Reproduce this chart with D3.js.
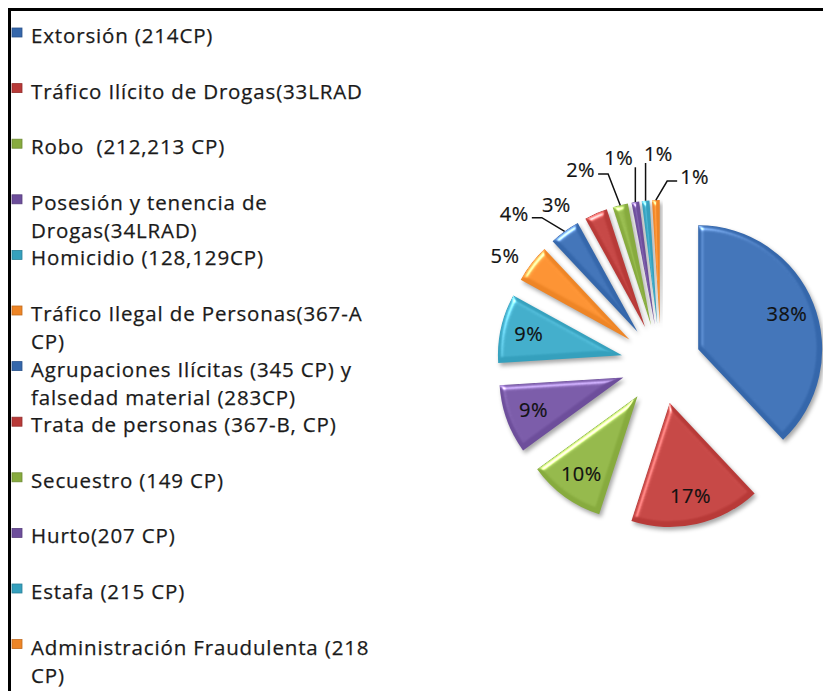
<!DOCTYPE html>
<html lang="es">
<head>
<meta charset="UTF-8">
<title>Delitos</title>
<style>
    body { margin: 0; background: #fff; }
    svg { display: block; }
    .legend-text { font: 20.5px "Open Sans", sans-serif; letter-spacing: 0.85px; fill: #1a1a1a; stroke: #1a1a1a; stroke-width: 0.25px; white-space: pre; }
    .pct { font: 20px "Open Sans", sans-serif; letter-spacing: 0.5px; fill: #111; stroke: #111; stroke-width: 0.2px; }
</style>
</head>
<body>
<div id="chart"></div>
<script src="https://d3js.org/d3.v7.min.js"></script>
<script>
    // categories as they appear in the legend (\n = line break in the legend)
    const categories = [
        "Extorsión (214CP)",
        "Tráfico Ilícito de Drogas(33LRAD",
        "Robo  (212,213 CP)",
        "Posesión y tenencia de\nDrogas(34LRAD)",
        "Homicidio (128,129CP)",
        "Tráfico Ilegal de Personas(367-A\nCP)",
        "Agrupaciones Ilícitas (345 CP) y\nfalsedad material (283CP)",
        "Trata de personas (367-B, CP)",
        "Secuestro (149 CP)",
        "Hurto(207 CP)",
        "Estafa (215 CP)",
        "Administración Fraudulenta (218\nCP)"
    ];
    const values = [38, 17, 10, 9, 9, 5, 4, 3, 2, 1, 1, 1];
    const palette = ["#3567ab", "#b83a38", "#87ab3e", "#6d4e9b", "#35a0bd", "#ee8526"];

    const W = 823, H = 691;
    const cx = 661, cy = 364, r = 124, explode = 40;

    const svg = d3.select("#chart").append("svg")
        .attr("width", W)
        .attr("height", H);

    const defs = svg.append("defs");
    const f = defs.append("filter").attr("id", "bevel")
        .attr("color-interpolation-filters", "sRGB")
        .attr("x", "-20%").attr("y", "-20%").attr("width", "150%").attr("height", "150%");
    f.append("feGaussianBlur").attr("in", "SourceAlpha").attr("stdDeviation", 2.5).attr("result", "blur");
    f.append("feSpecularLighting").attr("in", "blur").attr("surfaceScale", 3)
        .attr("specularConstant", 0.7).attr("specularExponent", 25)
        .attr("lighting-color", "#fff").attr("result", "spec")
        .append("feDistantLight").attr("azimuth", 235).attr("elevation", 40);
    f.append("feComposite").attr("in", "spec").attr("in2", "SourceAlpha")
        .attr("operator", "in").attr("result", "specIn");
    f.append("feComposite").attr("in", "SourceGraphic").attr("in2", "specIn")
        .attr("operator", "arithmetic").attr("k1", 0).attr("k2", 1).attr("k3", 1).attr("k4", 0)
        .attr("result", "lit");
    f.append("feGaussianBlur").attr("in", "SourceAlpha").attr("stdDeviation", 2).attr("result", "sblur");
    f.append("feOffset").attr("in", "sblur").attr("dx", 2).attr("dy", 3).attr("result", "soff");
    f.append("feFlood").attr("flood-color", "#000").attr("flood-opacity", 0.35).attr("result", "sc");
    f.append("feComposite").attr("in", "sc").attr("in2", "soff").attr("operator", "in").attr("result", "shadow");
    const fm = f.append("feMerge");
    fm.append("feMergeNode").attr("in", "shadow");
    fm.append("feMergeNode").attr("in", "lit");

    // frame (only top and left edges are visible in the crop)
    svg.append("path")
        .attr("d", `M9.5,${H} V9.5 H${W}`)
        .attr("fill", "none")
        .attr("stroke", "#000")
        .attr("stroke-width", 3);

    // legend
    const legend = svg.append("g");
    const step = 55.6;
    categories.forEach((c, i) => {
        const y = 37 + i * step;
        const col = palette[i % palette.length];
        legend.append("rect")
            .attr("x", 12).attr("y", y - 9)
            .attr("width", 10).attr("height", 9)
            .attr("fill", col)
            .attr("stroke", d3.color(col).darker(0.6))
            .attr("stroke-width", 0.8);
        const t = legend.append("text")
            .attr("class", "legend-text")
            .attr("x", 31).attr("y", y + 6);
        c.split("\n").forEach((line, k) => {
            t.append("tspan").attr("x", 31).attr("dy", k ? 28 : 0).text(line);
        });
    });

    // pie
    const pie = d3.pie().sort(null).value(d => d);
    const arcs = pie(values);
    const arc = d3.arc().innerRadius(0).outerRadius(r);
    const mid = a => (a.startAngle + a.endAngle) / 2;
    const dir = ang => [Math.sin(ang), -Math.cos(ang)];

    arcs.forEach(a => {
        const [dx, dy] = dir(mid(a));
        a.ox = cx + explode * dx;
        a.oy = cy + explode * dy;
    });

    const slices = svg.append("g");
    slices.selectAll("path")
        .data(arcs)
        .join("path")
        .attr("transform", d => `translate(${d.ox},${d.oy})`)
        .attr("d", arc)
        .attr("fill", (d, i) => palette[i % palette.length])
        .attr("filter", "url(#bevel)");

    // labels
    const labels = svg.append("g");
    const inside = arcs.filter(a => a.data >= 9);
    const outside = arcs.filter(a => a.data < 9);

    inside.forEach(a => {
        const [dx, dy] = dir(mid(a));
        labels.append("text")
            .attr("class", "pct")
            .attr("x", a.ox + r * 0.77 * dx)
            .attr("y", a.oy + r * 0.77 * dy)
            .attr("text-anchor", "middle")
            .attr("dy", "0.35em")
            .text(a.data + "%");
    });

    // collision helpers for the small-slice labels
    const placed = [];
    const boxHit = (a, b) => a.x0 < b.x1 && a.x1 > b.x0 && a.y0 < b.y1 && a.y1 > b.y0;
    const segHit = (s, b) => d3.range(0, 1.0001, 0.05).some(t => {
        const x = s[0][0] + (s[1][0] - s[0][0]) * t, y = s[0][1] + (s[1][1] - s[0][1]) * t;
        return x > b.x0 && x < b.x1 && y > b.y0 && y < b.y1;
    });
    const collides = b => placed.some(p => boxHit(b, p.box) ||
        d3.pairs(p.pts).some(s => segHit(s, b)));

    // small slices: labels fanned over the top, alternating rings, bumped outwards on collision
    const a0 = mid(outside[0]) - 3 * Math.PI / 180;
    const a1 = mid(outside[outside.length - 1]) + 12 * Math.PI / 180;
    const rings = [26, 46, 66];
    outside.forEach((a, k) => {
        const ang = a0 + (a1 - a0) * k / (outside.length - 1);
        const t = labels.append("text")
            .attr("class", "pct")
            .attr("text-anchor", "middle")
            .attr("dy", "0.35em")
            .text(a.data + "%");
        const tw = t.node().getComputedTextLength();
        const [dx, dy] = dir(ang);
        let ring = k % 2, lx, ly, box;
        for (;;) {
            const rad = r + explode + rings[ring];
            lx = cx + rad * dx; ly = cy + rad * dy;
            box = { x0: lx - tw / 2, x1: lx + tw / 2, y0: ly - 8, y1: ly + 8 };
            if (!collides(box) || ring === rings.length - 1) break;
            ring++;
        }
        t.attr("x", lx).attr("y", ly);

        // leader line to slice edge
        const [ex, ey] = dir(mid(a));
        const px = a.ox + r * ex, py = a.oy + r * ey;
        let pts = [];
        if (Math.hypot(lx - px, ly - py) > 43) {
            if (Math.abs(lx - px) < tw / 2 + 12) {
                pts = [[px, ly + 9], [px, py]];
            } else if (lx < px) {
                pts = [[lx + tw / 2 + 3, ly + 4], [lx + tw / 2 + 13, ly + 4], [px, py]];
            } else {
                pts = [[lx - tw / 2 - 3, ly + 4], [lx - tw / 2 - 13, ly + 4], [px, py]];
            }
            labels.append("path")
                .attr("d", d3.line()(pts))
                .attr("fill", "none")
                .attr("stroke", "#111")
                .attr("stroke-width", 1.5);
        }
        placed.push({ box, pts });
    });
</script>
</body>
</html>
